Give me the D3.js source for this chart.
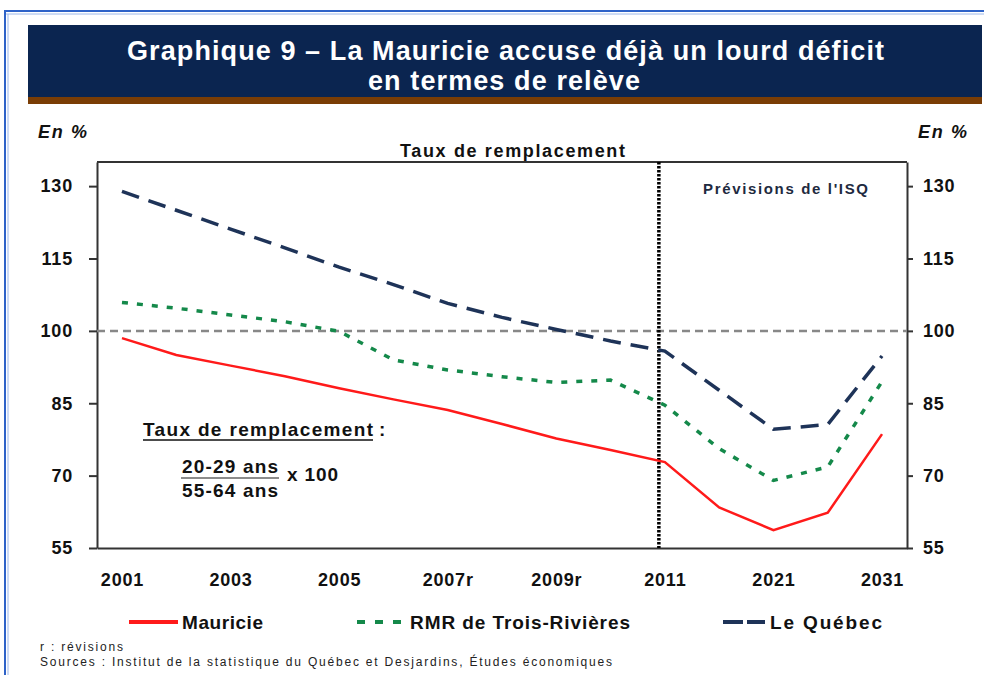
<!DOCTYPE html>
<html>
<head>
<meta charset="utf-8">
<script src="https://cdn.jsdelivr.net/npm/d3@7"></script>
<style>
  body { margin: 0; background: #fff; }
  svg { display: block; font-family: "Liberation Sans", Arial, sans-serif; }
  .axis path, .axis line { stroke: #333; stroke-width: 2; }
  .axis text { font-size: 18px; font-weight: bold; fill: #111; letter-spacing: 0.8px; font-family: "Liberation Sans", Arial, sans-serif; }
</style>
</head>
<body>
<svg id="chart" width="984" height="675"></svg>
<script>
// Categories (yearly to 2011, then every 5 years)
const years = ['2001','2002','2003','2004','2005','2006','2007','2008','2009','2010','2011','2016','2021','2026','2031'];
const tickYears = ['2001','2003','2005','2007','2009','2011','2021','2031'];
const tickLabels = ['2001','2003','2005','2007r','2009r','2011','2021','2031'];
const yTicks = [55, 70, 85, 100, 115, 130];

// Taux de remplacement, en %
const mauricie = [98.5, 95.0, 92.8, 90.6, 88.1, 85.8, 83.6, 80.7, 77.7, 75.3, 72.8, 63.4, 58.7, 62.3, 78.6];
const troisRivieres = [105.9, 104.7, 103.3, 101.9, 99.9, 94.0, 91.9, 90.5, 89.3, 89.8, 84.6, 75.6, 69.0, 71.8, 89.5];
const quebec = [128.9, 125.0, 121.1, 117.2, 113.2, 109.6, 105.7, 102.8, 100.3, 97.9, 95.8, 87.7, 79.6, 80.6, 94.8];

const series = [
  { name: 'Mauricie', values: mauricie, color: '#ff1a1a', dash: null, width: 2.5, legendDash: null },
  { name: 'RMR de Trois-Rivières', values: troisRivieres, color: '#14894a', dash: '6,9', width: 3.5, legendDash: '8,10' },
  { name: 'Le Québec', values: quebec, color: '#1e3358', dash: '18,10', width: 3.5, legendDash: '20,4' }
];

const svg = d3.select('#chart');

// helper for bold text stretched to the width it has in the picture
function label(sel, x, y, txt, size, len, opts = {}) {
  const t = sel.append('text').attr('x', x).attr('y', y).text(txt)
    .style('font-size', size + 'px')
    .style('font-weight', opts.weight || 'bold')
    .attr('fill', opts.fill || '#111');
  if (opts.italic) t.style('font-style', 'italic');
  if (opts.anchor) t.attr('text-anchor', opts.anchor);
  if (len) t.attr('textLength', len).attr('lengthAdjust', 'spacing');
  return t;
}

// Outer frame and title banner
svg.append('line').attr('x1', 5).attr('x2', 984).attr('y1', 11).attr('y2', 11)
  .attr('stroke', '#2f63c8').attr('stroke-width', 2);
svg.append('line').attr('x1', 5).attr('x2', 984).attr('y1', 14).attr('y2', 14)
  .attr('stroke', '#9db8ea').attr('stroke-width', 1);
svg.append('line').attr('x1', 5).attr('x2', 5).attr('y1', 10).attr('y2', 675)
  .attr('stroke', '#2f63c8').attr('stroke-width', 2);
svg.append('line').attr('x1', 8).attr('x2', 8).attr('y1', 14).attr('y2', 675)
  .attr('stroke', '#9db8ea').attr('stroke-width', 1);

svg.append('rect').attr('x', 28).attr('y', 25).attr('width', 954).attr('height', 72).attr('fill', '#0b2550');
svg.append('rect').attr('x', 28).attr('y', 97).attr('width', 954).attr('height', 7).attr('fill', '#7a3d05');

label(svg, 127, 60, 'Graphique 9 – La Mauricie accuse déjà un lourd déficit', 27, 757, { fill: '#fff' });
label(svg, 368, 90, 'en termes de relève', 27, 272, { fill: '#fff' });

// Plot area
const margin = { top: 162, right: 77, bottom: 127, left: 97 };
const width = 984 - margin.left - margin.right;
const height = 675 - margin.top - margin.bottom;

const x = d3.scalePoint().domain(years).range([0, width]).padding(0.46);
const y = d3.scaleLinear().domain([55, 135]).range([height, 0]);

const g = svg.append('g').attr('transform', `translate(${margin.left}, ${margin.top})`);

// Unit labels and chart subtitle
label(svg, 38, 138, 'En %', 18, 49, { italic: true });
label(svg, 918, 138, 'En %', 18, 49, { italic: true });
label(svg, 400, 157, 'Taux de remplacement', 18, 225);

// Axes
g.append('g').attr('class', 'axis')
  .call(d3.axisLeft(y).tickValues(yTicks).tickSize(8).tickPadding(16).tickSizeOuter(0));
g.append('g').attr('class', 'axis').attr('transform', `translate(${width}, 0)`)
  .call(d3.axisRight(y).tickValues(yTicks).tickSize(6).tickPadding(10).tickSizeOuter(0));
g.append('g').attr('class', 'axis').attr('transform', `translate(0, ${height})`)
  .call(d3.axisBottom(x).tickValues(tickYears).tickSize(0).tickPadding(24)
    .tickFormat(d => tickLabels[tickYears.indexOf(d)]))
  .selectAll('text').attr('dy', 0).attr('y', 38);
g.append('line').attr('x1', 0).attr('x2', width).attr('y1', 0).attr('y2', 0)
  .attr('stroke', '#333').attr('stroke-width', 2);

// Reference lines: 100 % and start of forecasts
g.append('line').attr('x1', 0).attr('x2', width).attr('y1', y(100)).attr('y2', y(100))
  .attr('stroke', '#888').attr('stroke-width', 2.5).attr('stroke-dasharray', '8,5');
const xForecast = x('2011') - 6;
g.append('line').attr('x1', xForecast).attr('x2', xForecast).attr('y1', 0).attr('y2', height)
  .attr('stroke', '#000').attr('stroke-width', 3.5).attr('stroke-dasharray', '2.5,1.5');

label(svg, 703, 194, "Prévisions de l'ISQ", 15, 165, { fill: '#1e2a40' });

// Series
const line = d3.line().x((d, i) => x(years[i])).y(d => y(d));
g.selectAll('.series')
  .data(series)
  .enter().append('path')
  .attr('class', 'series')
  .attr('fill', 'none')
  .attr('stroke', d => d.color)
  .attr('stroke-width', d => d.width)
  .attr('stroke-dasharray', d => d.dash)
  .attr('d', d => line(d.values));

// Formula annotation
const note = svg.append('g');
label(note, 143, 436, 'Taux de remplacement', 19, 230);
note.append('line').attr('x1', 143).attr('x2', 373).attr('y1', 440).attr('y2', 440)
  .attr('stroke', '#111').attr('stroke-width', 1.5);
label(note, 379, 436, ':', 19);
label(note, 182, 473, '20-29 ans', 19, 96);
note.append('line').attr('x1', 181).attr('x2', 279).attr('y1', 478).attr('y2', 478)
  .attr('stroke', '#666').attr('stroke-width', 1.5);
label(note, 182, 497, '55-64 ans', 19, 96);
label(note, 287, 481, 'x 100', 19, 51);

// Legend
const legendPos = [
  { x1: 129, x2: 178, tx: 182, len: 81 },
  { x1: 357, x2: 402, tx: 410, len: 220 },
  { x1: 723, x2: 765, tx: 770, len: 112 }
];
const legend = svg.selectAll('.legend')
  .data(series)
  .enter().append('g')
  .attr('class', 'legend');
legend.append('line')
  .attr('x1', (d, i) => legendPos[i].x1).attr('x2', (d, i) => legendPos[i].x2)
  .attr('y1', 622).attr('y2', 622)
  .attr('stroke', d => d.color).attr('stroke-width', 4)
  .attr('stroke-dasharray', d => d.legendDash);
legend.each(function(d, i) {
  label(d3.select(this), legendPos[i].tx, 629, d.name, 19, legendPos[i].len);
});

// Notes
label(svg, 40, 651, 'r : révisions', 12, 83, { weight: 'normal', fill: '#222' });
label(svg, 40, 666, 'Sources : Institut de la statistique du Québec et Desjardins, Études économiques', 12, 572,
  { weight: 'normal', fill: '#222' });
</script>
</body>
</html>
